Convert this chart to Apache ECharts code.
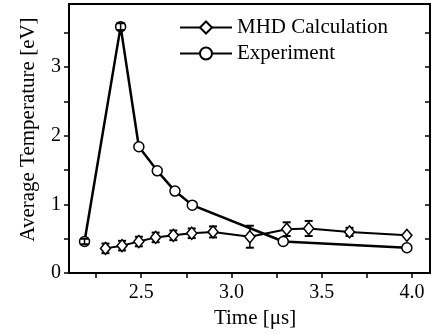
<!DOCTYPE html>
<html><head><meta charset="utf-8">
<script src="https://cdn.jsdelivr.net/npm/echarts@6/dist/echarts.min.js"></script>
<style>html,body{margin:0;padding:0;background:#fff}#c{width:433px;height:334px}</style>
</head><body><div id="c"></div>
<script>
// Experiment (circles)
const expTime = [2.186, 2.386, 2.487, 2.589, 2.687, 2.783, 3.287, 3.972];
const expTemp = [0.46, 3.59, 1.84, 1.49, 1.195, 0.99, 0.46, 0.37];
const expErr  = [0.04, 0.05, 0, 0, 0, 0, 0, 0];
// MHD calculation (diamonds)
const mhdTime = [2.302, 2.394, 2.487, 2.58, 2.678, 2.78, 2.898, 3.102, 3.306, 3.428, 3.654, 3.972];
const mhdTemp = [0.36, 0.40, 0.46, 0.52, 0.55, 0.58, 0.60, 0.53, 0.64, 0.65, 0.60, 0.55];
const mhdErr  = [0.07, 0.07, 0.07, 0.07, 0.07, 0.07, 0.08, 0.16, 0.10, 0.11, 0.06, 0];
const xTicks = [2.25, 2.5, 2.75, 3.0, 3.25, 3.5, 3.75, 4.0];
const xLabels = [2.5, 3.0, 3.5, 4.0];
const yTicks = [0, 0.5, 1, 1.5, 2, 2.5, 3, 3.5];
const yLabels = [0, 1, 2, 3];

const FONT = 'Liberation Serif';
function pairs(xs, ys){ return xs.map((x,i)=>[x, ys[i]]); }
function errData(xs, ys, es){ return xs.map((x,i)=>[x, ys[i]-es[i], ys[i]+es[i]]).filter((d,i)=>es[i]>0); }
function errRender(params, api){
  const x = api.value(0), lo = api.value(1), hi = api.value(2);
  const p1 = api.coord([x, hi]), p2 = api.coord([x, lo]);
  const w = 4;
  const st = {stroke:'#000', lineWidth:1.5};
  return {type:'group', children:[
    {type:'line', shape:{x1:p1[0],y1:p1[1],x2:p2[0],y2:p2[1]}, style:st},
    {type:'line', shape:{x1:p1[0]-w,y1:p1[1],x2:p1[0]+w,y2:p1[1]}, style:{stroke:'#000', lineWidth:2}},
    {type:'line', shape:{x1:p2[0]-w,y1:p2[1],x2:p2[0]+w,y2:p2[1]}, style:{stroke:'#000', lineWidth:2}}
  ]};
}
const chart = echarts.init(document.getElementById('c'), null, {renderer:'canvas'});
chart.setOption({
  animation:false,
  backgroundColor:'#fff',
  textStyle:{fontFamily:FONT, color:'#000'},
  grid:{left:69, right:3, top:4, bottom:59, show:true, borderColor:'#000', borderWidth:2, backgroundColor:'transparent'},
  legend:{
    left:174, top:12, orient:'vertical', itemWidth:52, itemHeight:15, itemGap:5, padding:5,
    textStyle:{fontFamily:FONT, fontSize:21, color:'#000'},
    data:['MHD Calculation','Experiment']
  },
  xAxis:[{
    type:'value', min:2.1, max:4.1,
    name:'Time [μs]', nameLocation:'middle', nameGap:29,
    nameTextStyle:{fontFamily:FONT, fontSize:21, color:'#000', padding:[0,0,0,11]},
    axisLine:{show:true, lineStyle:{color:'#000', width:2}},
    axisTick:{show:true, inside:false, length:5, lineStyle:{color:'#000', width:1.5}, customValues:xTicks},
    axisLabel:{show:true, fontFamily:FONT, fontSize:20, color:'#000', margin:10, customValues:xLabels, formatter:v=>v.toFixed(1)},
    splitLine:{show:false}
  }],
  yAxis:[{
    type:'value', min:0, max:3.92, position:'left',
    name:'Average Temperature [eV]', nameLocation:'middle', nameGap:30,
    nameTextStyle:{fontFamily:FONT, fontSize:21, color:'#000', padding:[0,0,0,18]},
    axisLine:{show:true, lineStyle:{color:'#000', width:2}},
    axisTick:{show:true, inside:false, length:5, lineStyle:{color:'#000', width:1.5}, customValues:yTicks},
    axisLabel:{show:true, fontFamily:FONT, fontSize:20, color:'#000', margin:8, customValues:yLabels, formatter:v=>String(v)},
    splitLine:{show:false}
  },{
    type:'value', min:0, max:3.92, position:'right',
    axisLine:{show:true, lineStyle:{color:'#000', width:2}},
    axisTick:{show:true, inside:true, length:5, lineStyle:{color:'#000', width:1.5}, customValues:yTicks},
    axisLabel:{show:false},
    splitLine:{show:false}
  }],
  series:[
    {name:'MHD Calculation', type:'line', data:pairs(mhdTime, mhdTemp), symbol:'diamond', symbolSize:[10,12],
     lineStyle:{color:'#000', width:2}, itemStyle:{color:'#fff', borderColor:'#000', borderWidth:1.5}, z:3},
    {name:'Experiment', type:'line', data:pairs(expTime, expTemp), symbol:'circle', symbolSize:10,
     lineStyle:{color:'#000', width:2.5}, itemStyle:{color:'#fff', borderColor:'#000', borderWidth:1.5}, z:3},
    {type:'custom', data:errData(mhdTime, mhdTemp, mhdErr), renderItem:errRender, z:2, silent:true},
    {type:'custom', data:errData(expTime, expTemp, expErr), renderItem:errRender, z:4, silent:true}
  ]
});
</script></body></html>
